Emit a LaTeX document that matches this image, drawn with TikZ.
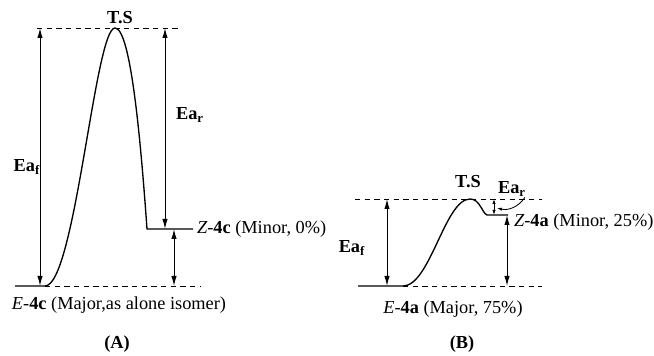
\documentclass[tikz,border=0pt]{standalone}
\usepackage{fontspec}
\setmainfont{Liberation Serif}
\usetikzlibrary{arrows.meta,positioning,calc}

\begin{document}
\begin{tikzpicture}[x=0.6pt,y=-0.6pt,
    lvl/.style={line width=0.8pt},
    dl/.style={dashed,line width=0.55pt,dash pattern=on 3.2pt off 2.6pt},
    da/.style={{Latex[length=6pt,width=3.2pt]}-{Latex[length=6pt,width=3.2pt]},line width=0.6pt},
    sa/.style={{Latex[length=3pt,width=2pt]}-{Latex[length=3pt,width=2pt]},line width=0.5pt},
    lab/.style={font=\fontsize{11}{13}\selectfont,inner sep=1pt},
    bl/.style={font=\fontsize{11}{13}\selectfont\bfseries,inner sep=1pt}]
  \useasboundingbox (0,0) rectangle (654,356);
  % (A)
  \coordinate (aE0) at (15,286);
  \coordinate (aE) at (45,286);
  \coordinate (aT) at (115,28);
  \coordinate (aZ) at (147,229);
  \coordinate (aZ1) at (193,229);
  \draw[lvl] (aE0) -- (aE) .. controls (75,286) and (95,28) .. (aT)
    .. controls (131,28) and (141,145) .. (aZ) -- (aZ1);
  \draw[dl] (37,28) -- (180,28);
  \draw[dl] (aE) -- (200,286);
  \coordinate (afT) at (40,28); \coordinate (afB) at (40,286);
  \coordinate (arT) at (165,28); \coordinate (arB) at (165,229);
  \coordinate (adT) at (174,229); \coordinate (adB) at (174,286);
  \draw[da] (afT) -- (afB);
  \draw[da] (arT) -- (arB);
  \draw[da] (adT) -- (adB);
  \node[bl] (tsA) at (120,18) {T.S};
  \node[bl] (eafA) at (27,167) {Ea\textsubscript{f}};
  \node[bl] (earA) at (190,115) {Ea\textsubscript{r}};
  \node[lab,anchor=west] (zA) at (195,229) {\textit{Z}-\textbf{4c} (Minor, 0\%)};
  \node[lab,anchor=west] (eA) at (10,305) {\textit{E}-\textbf{4c} (Major,as alone isomer)};
  \node[bl] (capA) at (117,344) {(A)};
  % (B)
  \coordinate (bE0) at (358,286);
  \coordinate (bE) at (403,286);
  \coordinate (bT) at (470,199);
  \coordinate (bZ) at (487,215);
  \coordinate (bZ1) at (508,215);
  \draw[lvl] (bE0) -- (bE) .. controls (430,286) and (445,199) .. (bT)
    .. controls (480,199) and (482,213) .. (bZ) -- (bZ1);
  \draw[dl] (355,199) -- (542,199);
  \draw[dl] (bE) -- (542,286);
  \coordinate (bfT) at (387,199); \coordinate (bfB) at (387,286);
  \coordinate (brT) at (494,199); \coordinate (brB) at (494,215);
  \coordinate (bdT) at (507,215); \coordinate (bdB) at (507,286);
  \coordinate (brM) at (497,208);
  \draw[da] (bfT) -- (bfB);
  \draw[sa] (brT) -- (brB);
  \draw[da] (bdT) -- (bdB);
  \node[bl] (tsB) at (468,182) {T.S};
  \node[bl] (eafB) at (352,248) {Ea\textsubscript{f}};
  \node[bl] (earB) at (512,189) {Ea\textsubscript{r}};
  \draw[-{Latex[length=3pt,width=2pt]},line width=0.5pt] ($(earB.south east)+(-3,-1)$) to[bend left=35] (brM);
  \node[lab,anchor=west] (zB) at (512,222) {\textit{Z}-\textbf{4a} (Minor, 25\%)};
  \node[lab] (eB) at (453,309) {\textit{E}-\textbf{4a} (Major, 75\%)};
  \node[bl] (capB) at (462,344) {(B)};
\end{tikzpicture}
\end{document}
